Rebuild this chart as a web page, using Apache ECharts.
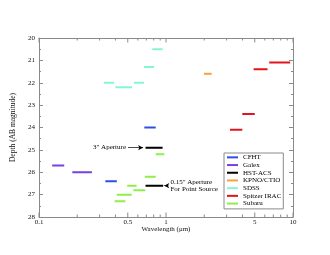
<!DOCTYPE html>
<html>
<head>
<meta charset="utf-8">
<script src="https://cdn.jsdelivr.net/npm/echarts@6/dist/echarts.min.js"></script>
<style>
html,body{margin:0;padding:0;background:#fff;}
#chart{width:330px;height:255px;}
</style>
</head>
<body>
<div id="chart"></div>
<script>
// ---- data: [start wavelength (µm), end wavelength (µm), depth (AB mag)] ----
const telescopes = ['CFHT', 'Galex', 'HST-ACS', 'KPNO/CTIO', 'SDSS', 'Spitzer IRAC', 'Subaru'];
const telescopeColors = ['#2d4fe6', '#7a3fe4', '#000000', '#f5a33a', '#86f5d6', '#e3141c', '#8eee4a'];
const cfhtBands = [[0.675, 0.83, 24.0], [0.333, 0.41, 26.4]];
const galexBands = [[0.127, 0.158, 25.7], [0.183, 0.261, 26.0]];
const hstBands = [[0.69, 0.94, 24.9], [0.69, 0.95, 26.6]];
const kpnoBands = [[1.99, 2.29, 21.6]];
const sdssBands = [[0.325, 0.39, 22.0], [0.40, 0.54, 22.2], [0.56, 0.67, 22.0], [0.67, 0.805, 21.3], [0.78, 0.94, 20.5]];
const spitzerBands = [[3.19, 3.99, 24.1], [3.99, 5.0, 23.4], [4.9, 6.3, 21.4], [6.5, 9.5, 21.1]];
const subaruBands = [[0.394, 0.479, 27.3], [0.41, 0.537, 27.0], [0.553, 0.687, 26.8], [0.495, 0.587, 26.6], [0.68, 0.83, 26.2], [0.83, 0.97, 25.2]];
const allBands = [cfhtBands, galexBands, hstBands, kpnoBands, sdssBands, spitzerBands, subaruBands];

// axis ticks / labels
const xTickValues = [0.1, 0.2, 0.3, 0.4, 0.5, 0.6, 0.7, 0.8, 0.9, 1, 2, 3, 4, 5, 6, 7, 8, 9, 10];
const xLabelValues = [0.1, 0.5, 1, 5, 10];
const xLabelTexts = ['0.1', '0.5', '1', '5', '10'];
const depthMin = 20, depthMax = 28;

// annotations: [from wavelength, to wavelength, depth, text]
const annotations = [
  [0.502, 0.66, 24.9, '3" Aperture'],
  [1.045, 0.968, 26.6, '0.15" Aperture\nFor Point Source']
];

const FONT = 'Liberation Serif';
const AXIS_COLOR = '#8a8a8a';

function bandsToLine(bands) {
  const out = [];
  bands.forEach((b, i) => {
    if (i > 0) out.push(['-', '-']);
    out.push([b[0], b[2]]);
    out.push([b[1], b[2]]);
  });
  return out;
}

const series = telescopes.map((name, i) => {
  const s = {
    name: name,
    type: 'line',
    data: bandsToLine(allBands[i]),
    symbol: 'none',
    connectNulls: false,
    color: telescopeColors[i],
    lineStyle: { width: 2, color: telescopeColors[i], cap: 'butt' },
    z: 3
  };
  if (name === 'HST-ACS') {
    s.markLine = {
      silent: true,
      symbol: ['none', 'arrow'],
      symbolSize: [4, 5],
      lineStyle: { color: '#000', width: 0.7, type: 'solid' },
      label: { show: true, position: 'start', distance: 2, fontFamily: FONT, fontSize: 7, color: '#000', lineHeight: 7 },
      data: annotations.map(a => [
        { coord: [a[0], a[2]], label: { formatter: a[3] } },
        { coord: [a[1], a[2]] }
      ])
    };
  }
  return s;
});

// custom ticks for the log axis (bottom and top)
series.push({
  type: 'custom',
  silent: true,
  clip: false,
  data: xTickValues.map(v => [v, depthMax]),
  renderItem: function (params, api) {
    const v = api.value(0);
    const bottom = api.coord([v, depthMax]);
    const top = api.coord([v, depthMin]);
    const li = xLabelValues.indexOf(v);
    const len = li >= 0 ? 4.5 : 2.5;
    const children = [
      { type: 'line', shape: { x1: bottom[0], y1: bottom[1], x2: bottom[0], y2: bottom[1] - len }, style: { stroke: AXIS_COLOR, lineWidth: 1 } },
      { type: 'line', shape: { x1: top[0], y1: top[1], x2: top[0], y2: top[1] + len }, style: { stroke: AXIS_COLOR, lineWidth: 1 } }
    ];
    if (li >= 0) {
      children.push({
        type: 'text',
        style: { text: xLabelTexts[li], x: bottom[0], y: bottom[1] + 1.5, align: 'center', verticalAlign: 'top', font: '7px "' + FONT + '"', fill: '#111' }
      });
    }
    return { type: 'group', children: children };
  },
  z: 4
});

const yAxisBase = {
  type: 'value',
  inverse: true,
  min: depthMin,
  max: depthMax,
  interval: 1,
  splitLine: { show: false },
  minorSplitLine: { show: false },
  axisLine: { show: true, lineStyle: { color: AXIS_COLOR, width: 1 } },
  axisTick: { show: true, inside: true, length: 4, lineStyle: { color: AXIS_COLOR } },
  minorTick: { show: true, splitNumber: 2, length: 2, lineStyle: { color: AXIS_COLOR } }
};

const option = {
  animation: false,
  backgroundColor: '#fff',
  grid: { left: 39, right: 37, top: 38, bottom: 38 },
  legend: {
    data: telescopes,
    orient: 'vertical',
    left: 224,
    top: 153,
    padding: [0.5, 2, 1.5, 3],
    itemGap: 0,
    itemWidth: 11,
    itemHeight: 7,
    borderColor: AXIS_COLOR,
    borderWidth: 1,
    backgroundColor: '#fff',
    icon: 'path://M0,0 L11,0 L11,2 L0,2 Z',
    textStyle: { fontFamily: FONT, fontSize: 7, lineHeight: 7.7, color: '#000', padding: 0 },
    selectedMode: false
  },
  xAxis: [
    {
      type: 'log',
      logBase: 10,
      min: 0.1,
      max: 10,
      position: 'bottom',
      splitLine: { show: false },
      axisTick: { show: false },
      axisLabel: { show: false },
      axisLine: { show: true, lineStyle: { color: AXIS_COLOR, width: 1 } },
      name: 'Wavelength (μm)',
      nameLocation: 'middle',
      nameGap: 9,
      nameTextStyle: { fontFamily: FONT, fontSize: 7, color: '#111' }
    },
    {
      type: 'log',
      logBase: 10,
      min: 0.1,
      max: 10,
      position: 'top',
      splitLine: { show: false },
      axisTick: { show: false },
      axisLabel: { show: false },
      axisLine: { show: true, lineStyle: { color: AXIS_COLOR, width: 1 } }
    }
  ],
  yAxis: [
    Object.assign({}, yAxisBase, {
      position: 'left',
      axisLabel: { show: true, fontFamily: FONT, fontSize: 7, color: '#111', margin: 4 },
      name: 'Depth (AB magnitude)',
      nameLocation: 'middle',
      nameGap: 15,
      nameTextStyle: { fontFamily: FONT, fontSize: 7.5, color: '#111' }
    }),
    Object.assign({}, yAxisBase, {
      position: 'right',
      axisLabel: { show: false }
    })
  ],
  series: series
};

const chart = echarts.init(document.getElementById('chart'), null, { renderer: 'canvas' });
chart.setOption(option);
</script>
</body>
</html>
